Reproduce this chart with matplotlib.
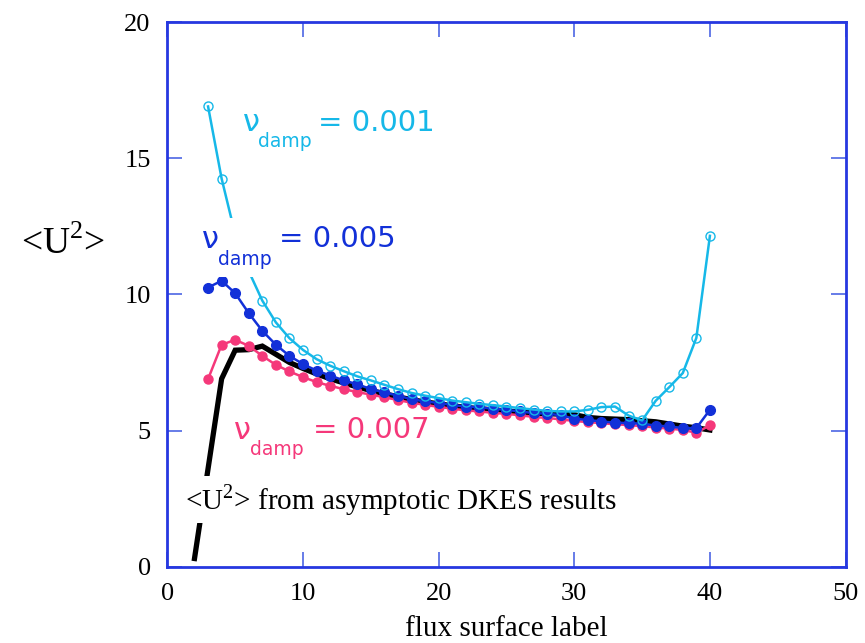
import numpy as np
import matplotlib
matplotlib.use('Agg')
from matplotlib import pyplot as plt
from matplotlib.patches import Rectangle

# flux surface labels
x_nu = np.arange(3, 41)
x_dkes = np.arange(2, 41)

# <U^2> for nu_damp = 0.001 (open circles)
u2_001 = [16.9, 14.25, 12.2, 10.85, 9.77, 8.97, 8.39, 7.96, 7.62, 7.38,
          7.18, 6.99, 6.84, 6.68, 6.52, 6.38, 6.28, 6.19, 6.10, 6.04,
          5.98, 5.93, 5.88, 5.82, 5.77, 5.72, 5.70, 5.70, 5.76, 5.86,
          5.88, 5.55, 5.37, 6.09, 6.59, 7.11, 8.40, 12.15]

# <U^2> for nu_damp = 0.005
u2_005 = [10.25, 10.5, 10.04, 9.31, 8.66, 8.15, 7.74, 7.44, 7.20, 7.02,
          6.84, 6.70, 6.52, 6.40, 6.28, 6.15, 6.07, 6.01, 5.94, 5.88,
          5.85, 5.80, 5.76, 5.70, 5.64, 5.62, 5.56, 5.43, 5.39, 5.33,
          5.29, 5.27, 5.25, 5.18, 5.15, 5.09, 5.09, 5.76]

# <U^2> for nu_damp = 0.007
u2_007 = [6.89, 8.15, 8.33, 8.11, 7.74, 7.41, 7.17, 6.96, 6.78, 6.64,
          6.52, 6.41, 6.32, 6.22, 6.12, 6.02, 5.94, 5.87, 5.80, 5.74,
          5.70, 5.65, 5.61, 5.56, 5.50, 5.46, 5.41, 5.35, 5.31, 5.27,
          5.23, 5.20, 5.16, 5.11, 5.07, 5.02, 4.92, 5.19]

# asymptotic DKES result
u2_dkes = [0.3, 3.6, 6.9, 7.95, 7.97, 8.1, 7.8, 7.5, 7.28, 7.08,
           6.9, 6.75, 6.6, 6.47, 6.35, 6.24, 6.13, 6.05, 5.98, 5.91,
           5.85, 5.80, 5.76, 5.72, 5.68, 5.64, 5.62, 5.60, 5.58, 5.48,
           5.44, 5.42, 5.40, 5.36, 5.32, 5.24, 5.16, 5.10, 5.02]

cyan = '#16b8e8'
blue = '#1230d8'
pink = '#f5387a'
frame = '#2638e0'

fig = plt.figure(figsize=(8.65, 6.43), dpi=100)
ax = fig.add_axes([0.1935, 0.1187, 0.784, 0.847])

ax.plot(x_dkes, u2_dkes, color='black', lw=3.8, zorder=1, solid_joinstyle='miter')
ax.plot(x_nu, u2_007, color=pink, lw=1.8, marker='o', ms=6.5, zorder=2)
ax.plot(x_nu, u2_005, color=blue, lw=1.8, marker='o', ms=7, zorder=3)
ax.plot(x_nu, u2_001, color=cyan, lw=1.8, marker='o', ms=6.5,
        mfc='none', mew=1.0, zorder=4)

ax.set_xlim(0, 50)
ax.set_ylim(0, 20)
ax.set_xticks([0, 10, 20, 30, 40, 50])
ax.set_yticks([0, 5, 10, 15, 20])

for sp in ax.spines.values():
    sp.set_color(frame)
    sp.set_linewidth(2)

serif = 'Liberation Serif'
ax.tick_params(direction='in', length=11, width=1.3, color='#5a72e6',
               top=True, right=True, labelsize=19, pad=12)
for lab in ax.get_xticklabels() + ax.get_yticklabels():
    lab.set_family(serif)

ax.set_xlabel('flux surface label', family=serif, fontsize=21, labelpad=8)
fig.text(0.024, 0.62, r'<U$^{\mathregular{2}}$>', family=serif, fontsize=27,
         ha='left', va='center')


def nu_label(x_nu_txt, y_nu, x_sub, y_sub, x_eq, y_eq, val, col):
    ax.text(x_nu_txt, y_nu, '\u03bd', color=col, fontsize=22, va='center',
            ha='left', zorder=6)
    ax.text(x_sub, y_sub, 'damp', color=col, fontsize=13.5, va='center',
            ha='left', zorder=6)
    ax.text(x_eq, y_eq, '= ' + val, color=col, fontsize=21, va='center',
            ha='left', zorder=6)


nu_label(5.55, 16.3, 6.67, 15.61, 11.1, 16.3, '0.001', cyan)
# white backing behind the 0.005 label (hides the cyan curve there)
ax.add_patch(Rectangle((2.3, 10.62), 15.2, 2.18, facecolor='white',
                       edgecolor='none', zorder=5))
nu_label(2.58, 12.0, 3.76, 11.28, 8.24, 12.05, '0.005', blue)
nu_label(4.88, 5.0, 6.09, 4.29, 10.77, 5.03, '0.007', pink)

ax.text(1.3, 2.45, r'<U$^{\mathregular{2}}$> from asymptotic DKES results',
        family=serif, fontsize=21, va='center', ha='left', zorder=6,
        bbox=dict(facecolor='white', edgecolor='none', pad=4))

plt.savefig('out.png', dpi=100)
